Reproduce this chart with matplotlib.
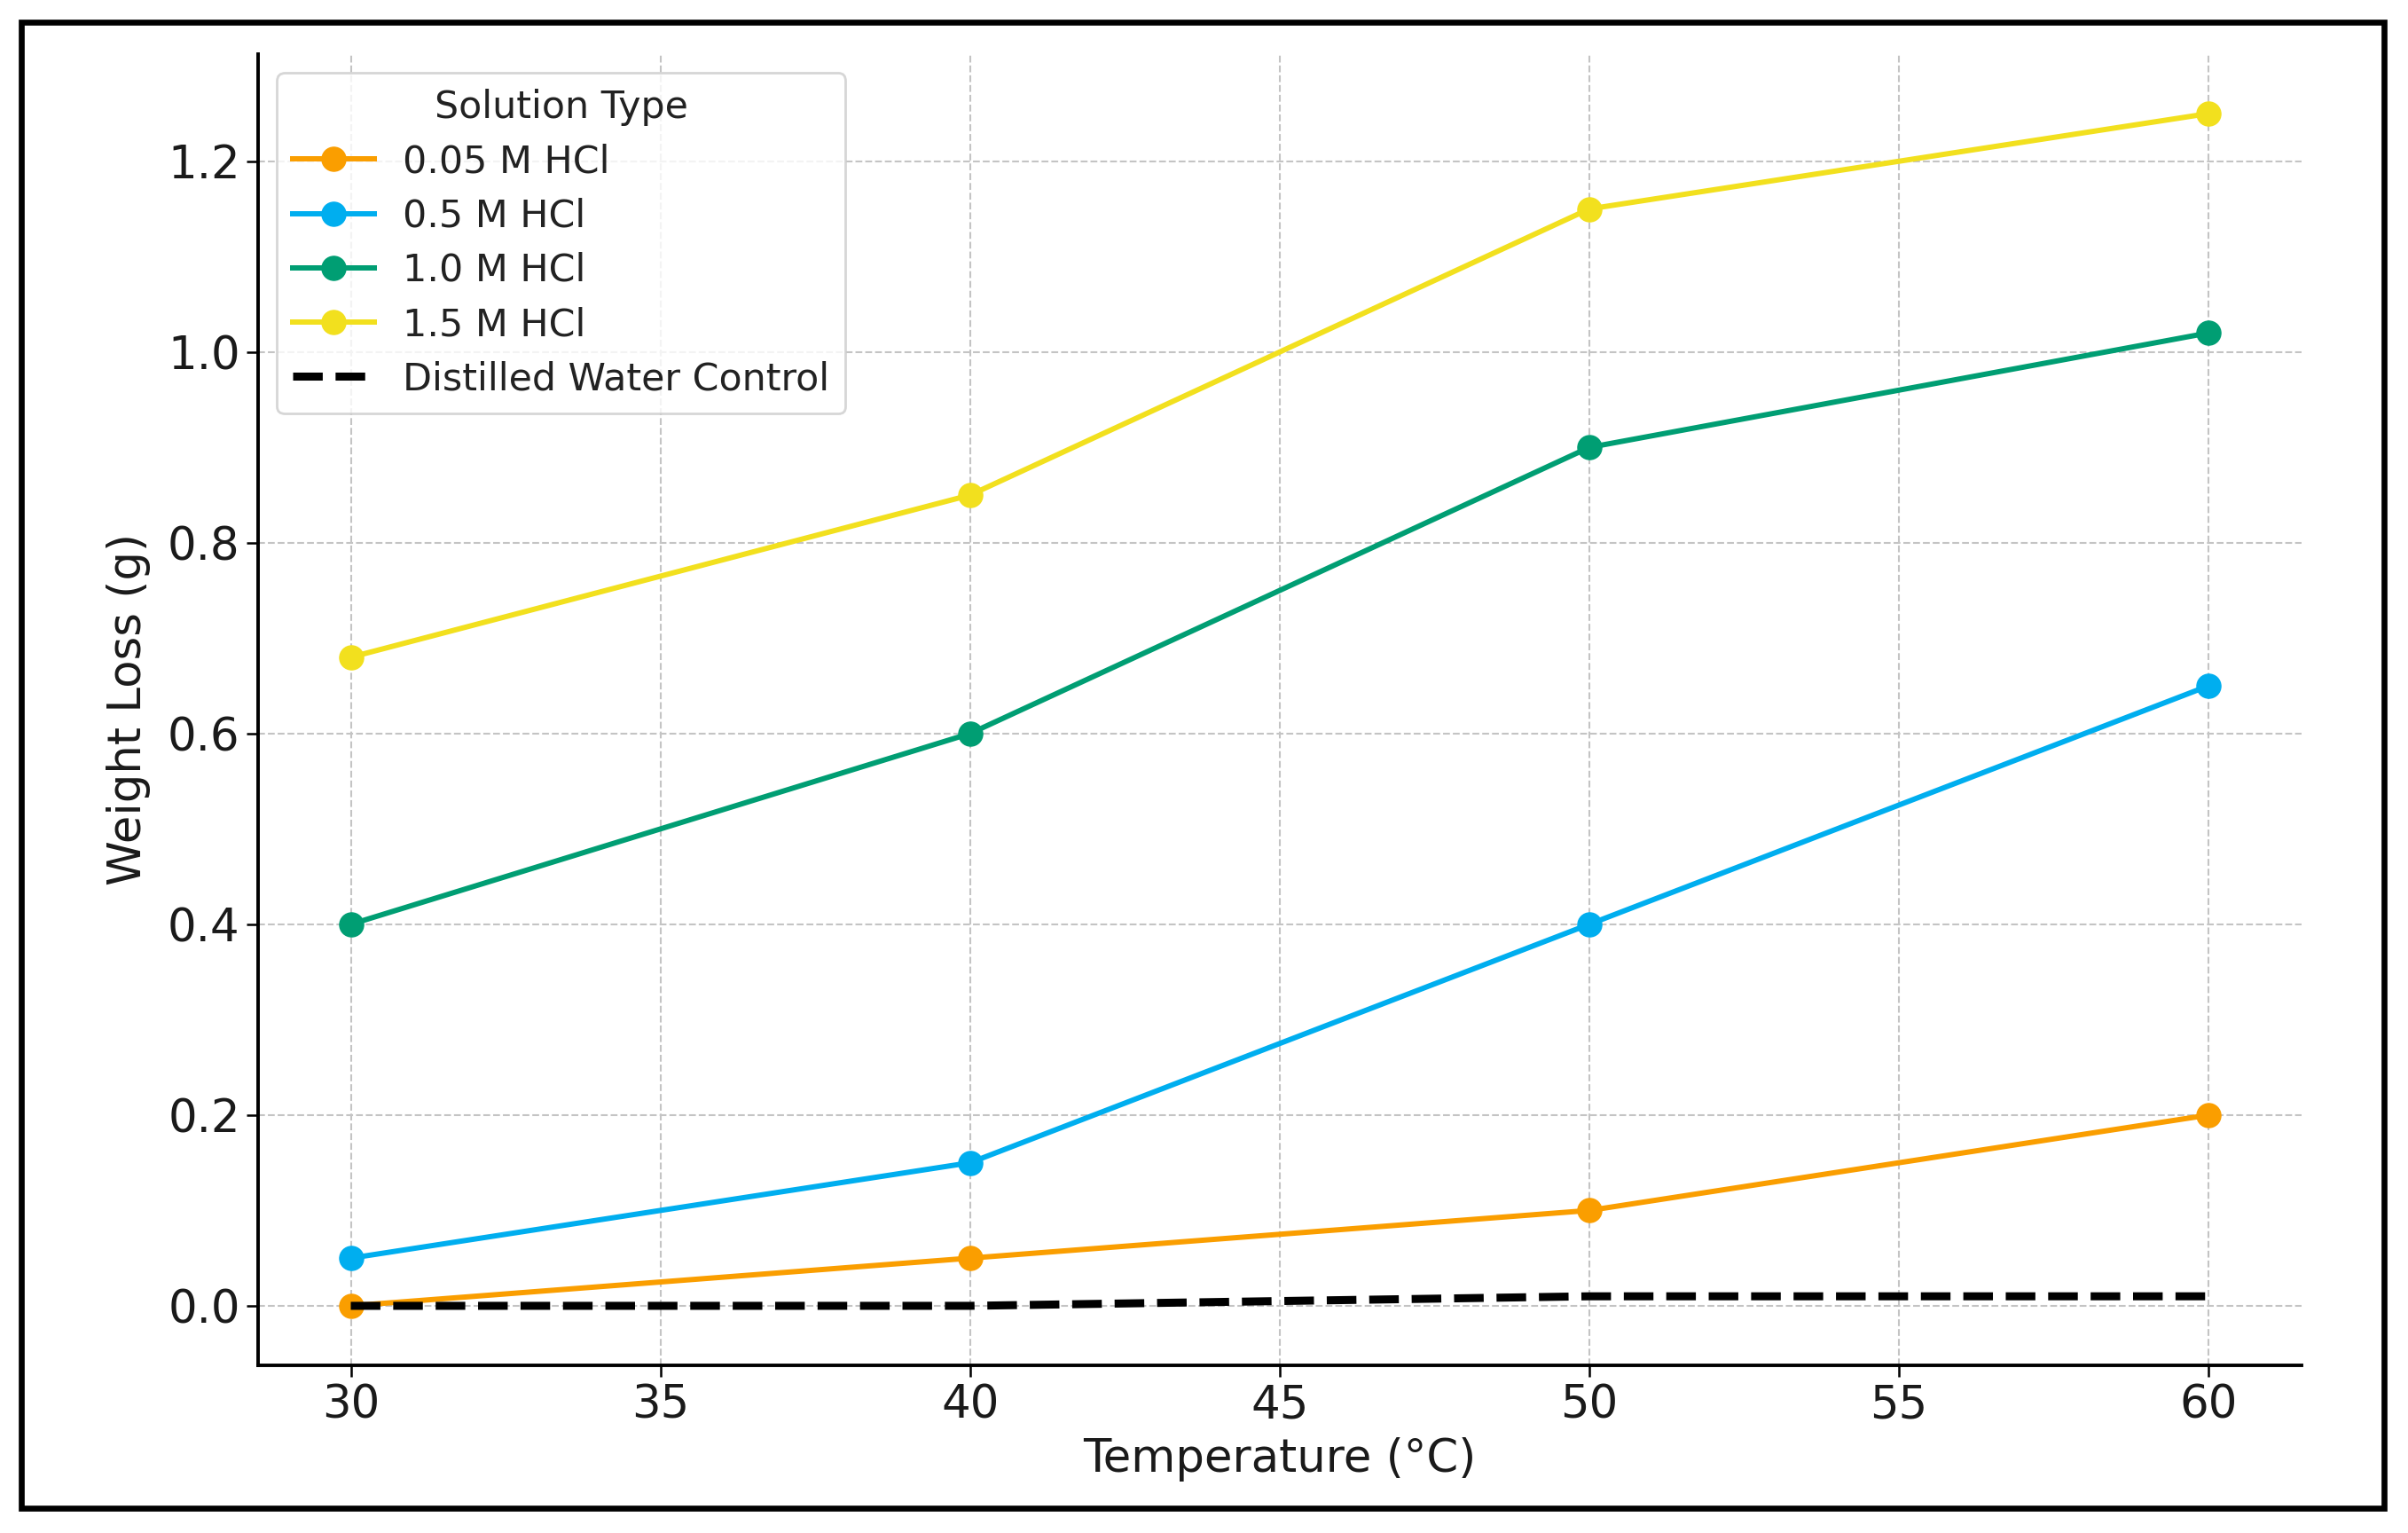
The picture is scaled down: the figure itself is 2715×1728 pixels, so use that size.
import matplotlib
matplotlib.use("Agg")
import matplotlib.pyplot as plt
from matplotlib.patches import Rectangle

# ---- data ----
temperature = [30, 40, 50, 60]
hcl_005 = [0.00, 0.05, 0.10, 0.20]
hcl_05 = [0.05, 0.15, 0.40, 0.65]
hcl_10 = [0.40, 0.60, 0.90, 1.02]
hcl_15 = [0.68, 0.85, 1.15, 1.25]
water_control = [0.00, 0.00, 0.01, 0.01]

series_labels = ["0.05 M HCl", "0.5 M HCl", "1.0 M HCl", "1.5 M HCl"]
series_values = [hcl_005, hcl_05, hcl_10, hcl_15]
series_colors = ["#FA9E00", "#00AEEF", "#009E73", "#F2E01E"]
water_label = "Distilled Water Control"

x_ticks = [30, 35, 40, 45, 50, 55, 60]
y_ticks = [0.0, 0.2, 0.4, 0.6, 0.8, 1.0, 1.2]

plt.rcParams['font.family'] = ['DejaVu Sans']

fig = plt.figure(figsize=(27.15, 17.28), dpi=100)
ax = fig.add_axes([0.1071, 0.1093, 0.9557 - 0.1071, 0.9648 - 0.1093])

for lab, vals, col in zip(series_labels, series_values, series_colors):
    ax.plot(temperature, vals, marker='o', color=col, linewidth=4.3,
            markersize=19.5, label=lab)
ax.plot(temperature, water_control, linestyle='--', color='black',
        linewidth=6.5, label=water_label)

ax.set_xticks(x_ticks)
ax.set_yticks(y_ticks)
ax.set_xlim(28.5, 61.5)
ax.set_ylim(-0.0625, 1.3125)

ax.grid(True, linestyle='--', color='#c4c4c4', linewidth=1.5)
ax.set_axisbelow(True)

for s in ['top', 'right']:
    ax.spines[s].set_visible(False)
for s in ['left', 'bottom']:
    ax.spines[s].set_linewidth(2.8)
    ax.spines[s].set_color('black')

ax.tick_params(axis='both', labelsize=37, length=9.5, width=1.8,
               colors='black', labelcolor='#1a1a1a', pad=5)

ax.set_xlabel("Temperature (°C)", fontsize=37, color='#1a1a1a', labelpad=8)
ax.set_ylabel("Weight Loss (g)", fontsize=37, color='#1a1a1a', labelpad=14)

leg = ax.legend(title="Solution Type", loc='upper left', fontsize=30.8,
                title_fontsize=30.8, handlelength=2.15, handletextpad=0.75,
                labelspacing=0.45, borderpad=0.42,
                framealpha=0.8, edgecolor='#cccccc')
leg.get_frame().set_linewidth(2.0)
for t in leg.get_texts():
    t.set_color('#222222')
leg.get_title().set_color('#222222')

# outer black border around the figure
fig.patches.append(Rectangle((0.00866, 0.0162), 0.9899 - 0.00866,
                             0.98553 - 0.0162, transform=fig.transFigure,
                             fill=False, edgecolor='black', linewidth=4.8))

fig.savefig("out.png", dpi=100, facecolor='white')
